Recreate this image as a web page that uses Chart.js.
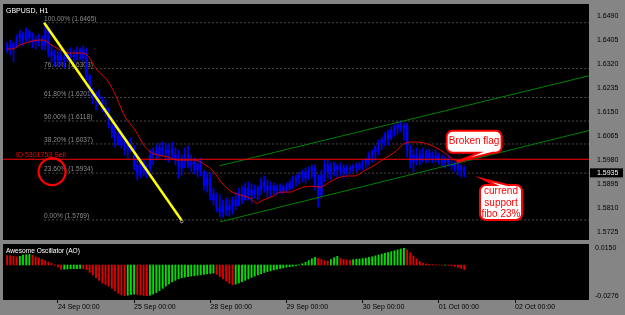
<!DOCTYPE html>
<html>
<head>
<meta charset="utf-8">
<script src="https://cdn.jsdelivr.net/npm/chart.js@4.4.1/dist/chart.umd.min.js"></script>
<style>
  html, body { margin: 0; padding: 0; background: #858585; }
  #wrap { position: relative; width: 625px; height: 315px; overflow: hidden; }
  #priceChart { position: absolute; left: 0; top: 0; }
  #aoChart { position: absolute; left: 0; top: 240px; }
</style>
</head>
<body>
<div id="wrap">
  <canvas id="priceChart" width="625" height="240"></canvas>
  <canvas id="aoChart" width="625" height="75"></canvas>
</div>
<script>
// GBPUSD H1, bars counted in hours from 24 Sep 00:00 (first visible bar is -16)
const firstBar = -16;

const barHigh = [
  1.6397, 1.6404, 1.6397, 1.6422, 1.6440, 1.6433, 1.6447, 1.6440,
  1.6429, 1.6418, 1.6425, 1.6418, 1.6465, 1.6440, 1.6386, 1.6369,
  1.6362, 1.6369, 1.6355, 1.6369, 1.6376, 1.6369, 1.6379, 1.6376,
  1.6383, 1.6376, 1.6284, 1.6235, 1.6221, 1.6228, 1.6203, 1.6192,
  1.6164, 1.6132, 1.6104, 1.6086, 1.6072, 1.6058, 1.6051, 1.6058,
  1.6033, 1.5998, 1.5987, 1.5980, 1.5963, 1.6016, 1.6023, 1.6033,
  1.6040, 1.6044, 1.6040, 1.6033, 1.6044, 1.6023, 1.6016, 1.5998,
  1.6023, 1.6030, 1.5998, 1.5987, 1.5980, 1.5987, 1.5945, 1.5938,
  1.5934, 1.5881, 1.5864, 1.5857, 1.5839, 1.5846, 1.5839, 1.5850,
  1.5867, 1.5881, 1.5888, 1.5899, 1.5903, 1.5896, 1.5892, 1.5888,
  1.5917, 1.5924, 1.5910, 1.5903, 1.5899, 1.5892, 1.5896, 1.5892,
  1.5899, 1.5910, 1.5924, 1.5927, 1.5938, 1.5945, 1.5952, 1.5956,
  1.5963, 1.5963, 1.5927, 1.5945, 1.5980, 1.5980, 1.5970, 1.5973,
  1.5966, 1.5970, 1.5963, 1.5963, 1.5959, 1.5966, 1.5970, 1.5973,
  1.5980, 1.5987, 1.6009, 1.6016, 1.6033, 1.6051, 1.6062, 1.6079,
  1.6086, 1.6097, 1.6104, 1.6115, 1.6118, 1.6111, 1.6111, 1.6033,
  1.6016, 1.6023, 1.6016, 1.6023, 1.6016, 1.6019, 1.6009, 1.6016,
  1.6005, 1.5998, 1.5995, 1.5998, 1.5980, 1.5973, 1.5980, 1.5963,
  1.5959
];
const barLow = [
  1.6358, 1.6351, 1.6327, 1.6376, 1.6386, 1.6383, 1.6397, 1.6390,
  1.6376, 1.6372, 1.6383, 1.6369, 1.6369, 1.6344, 1.6327, 1.6312,
  1.6309, 1.6319, 1.6305, 1.6327, 1.6334, 1.6323, 1.6334, 1.6334,
  1.6327, 1.6263, 1.6210, 1.6178, 1.6157, 1.6175, 1.6150, 1.6132,
  1.6093, 1.6058, 1.6026, 1.6033, 1.6023, 1.5998, 1.5987, 1.6009,
  1.5945, 1.5910, 1.5917, 1.5924, 1.5917, 1.5938, 1.5963, 1.5980,
  1.5987, 1.5995, 1.5980, 1.5973, 1.5987, 1.5963, 1.5917, 1.5927,
  1.5952, 1.5952, 1.5938, 1.5931, 1.5920, 1.5924, 1.5874, 1.5867,
  1.5839, 1.5821, 1.5797, 1.5779, 1.5779, 1.5786, 1.5782, 1.5789,
  1.5804, 1.5818, 1.5825, 1.5839, 1.5839, 1.5828, 1.5846, 1.5839,
  1.5857, 1.5867, 1.5846, 1.5853, 1.5860, 1.5857, 1.5864, 1.5860,
  1.5867, 1.5874, 1.5881, 1.5888, 1.5896, 1.5903, 1.5899, 1.5910,
  1.5917, 1.5874, 1.5814, 1.5846, 1.5903, 1.5917, 1.5910, 1.5924,
  1.5917, 1.5924, 1.5917, 1.5927, 1.5931, 1.5938, 1.5938, 1.5945,
  1.5945, 1.5952, 1.5963, 1.5973, 1.5980, 1.5998, 1.6016, 1.6030,
  1.6033, 1.6051, 1.6065, 1.6072, 1.6079, 1.6051, 1.5991, 1.5952,
  1.5938, 1.5963, 1.5963, 1.5973, 1.5970, 1.5973, 1.5970, 1.5973,
  1.5966, 1.5959, 1.5952, 1.5959, 1.5945, 1.5938, 1.5927, 1.5920,
  1.5920
];
const barOpen = [
  1.6369, 1.6386, 1.6376, 1.6390, 1.6411, 1.6425, 1.6404, 1.6433,
  1.6411, 1.6397, 1.6404, 1.6397, 1.6386, 1.6440, 1.6362, 1.6351,
  1.6334, 1.6348, 1.6334, 1.6341, 1.6355, 1.6344, 1.6351, 1.6362,
  1.6369, 1.6341, 1.6277, 1.6228, 1.6199, 1.6210, 1.6192, 1.6164,
  1.6157, 1.6104, 1.6079, 1.6044, 1.6065, 1.6033, 1.6016, 1.6033,
  1.6023, 1.5963, 1.5927, 1.5973, 1.5938, 1.5952, 1.5998, 1.6009,
  1.5998, 1.6023, 1.6016, 1.6005, 1.6016, 1.5998, 1.5980, 1.5952,
  1.5980, 1.5998, 1.5963, 1.5973, 1.5945, 1.5963, 1.5938, 1.5892,
  1.5917, 1.5857, 1.5839, 1.5811, 1.5797, 1.5821, 1.5804, 1.5818,
  1.5839, 1.5821, 1.5857, 1.5839, 1.5881, 1.5857, 1.5874, 1.5860,
  1.5881, 1.5903, 1.5888, 1.5874, 1.5888, 1.5874, 1.5881, 1.5874,
  1.5885, 1.5878, 1.5899, 1.5910, 1.5917, 1.5927, 1.5938, 1.5917,
  1.5945, 1.5952, 1.5892, 1.5857, 1.5927, 1.5963, 1.5938, 1.5952,
  1.5945, 1.5959, 1.5938, 1.5952, 1.5945, 1.5952, 1.5959, 1.5952,
  1.5963, 1.5970, 1.5980, 1.5998, 1.6009, 1.6023, 1.6040, 1.6051,
  1.6069, 1.6058, 1.6086, 1.6093, 1.6104, 1.6093, 1.6101, 1.6016,
  1.5973, 1.5998, 1.5980, 1.5998, 1.5987, 1.6005, 1.5987, 1.5995,
  1.5987, 1.5980, 1.5973, 1.5980, 1.5966, 1.5959, 1.5966, 1.5945,
  1.5952
];
const barClose = [
  1.6386, 1.6376, 1.6390, 1.6411, 1.6425, 1.6404, 1.6433, 1.6411,
  1.6397, 1.6404, 1.6397, 1.6386, 1.6440, 1.6362, 1.6351, 1.6334,
  1.6348, 1.6334, 1.6341, 1.6355, 1.6344, 1.6351, 1.6362, 1.6369,
  1.6341, 1.6277, 1.6228, 1.6199, 1.6210, 1.6192, 1.6164, 1.6157,
  1.6104, 1.6079, 1.6044, 1.6065, 1.6033, 1.6016, 1.6033, 1.6023,
  1.5963, 1.5927, 1.5973, 1.5938, 1.5952, 1.5998, 1.6009, 1.5998,
  1.6023, 1.6016, 1.6005, 1.6016, 1.5998, 1.5980, 1.5952, 1.5980,
  1.5998, 1.5963, 1.5973, 1.5945, 1.5963, 1.5938, 1.5892, 1.5917,
  1.5857, 1.5839, 1.5811, 1.5797, 1.5821, 1.5804, 1.5818, 1.5839,
  1.5821, 1.5857, 1.5839, 1.5881, 1.5857, 1.5874, 1.5860, 1.5881,
  1.5903, 1.5888, 1.5874, 1.5888, 1.5874, 1.5881, 1.5874, 1.5885,
  1.5878, 1.5899, 1.5910, 1.5917, 1.5927, 1.5938, 1.5917, 1.5945,
  1.5952, 1.5892, 1.5857, 1.5927, 1.5963, 1.5938, 1.5952, 1.5945,
  1.5959, 1.5938, 1.5952, 1.5945, 1.5952, 1.5959, 1.5952, 1.5963,
  1.5970, 1.5980, 1.5998, 1.6009, 1.6023, 1.6040, 1.6051, 1.6069,
  1.6058, 1.6086, 1.6093, 1.6104, 1.6093, 1.6101, 1.6016, 1.5973,
  1.5998, 1.5980, 1.5998, 1.5987, 1.6005, 1.5987, 1.5995, 1.5987,
  1.5980, 1.5973, 1.5980, 1.5966, 1.5959, 1.5966, 1.5945, 1.5952,
  1.5935
];

// Awesome Oscillator, one value per bar
const aoValues = [
  0.0084, 0.0084, 0.0078, 0.0072, 0.0078, 0.0090, 0.0093, 0.0095,
  0.0088, 0.0072, 0.0062, 0.0050, 0.0038, 0.0026, 0.0014, -0.0004,
  -0.0018, -0.0040, -0.0038, -0.0036, -0.0034, -0.0033, -0.0032, -0.0031,
  -0.0034, -0.0042, -0.0066, -0.0090, -0.0114, -0.0138, -0.0162, -0.0174,
  -0.0192, -0.0210, -0.0234, -0.0255, -0.0270, -0.0276, -0.0272, -0.0266,
  -0.0262, -0.0266, -0.0270, -0.0274, -0.0276, -0.0272, -0.0262, -0.0248,
  -0.0230, -0.0210, -0.0190, -0.0170, -0.0152, -0.0138, -0.0125, -0.0116,
  -0.0110, -0.0105, -0.0100, -0.0096, -0.0092, -0.0088, -0.0084, -0.0080,
  -0.0076, -0.0072, -0.0085, -0.0105, -0.0125, -0.0145, -0.0165, -0.0178,
  -0.0172, -0.0162, -0.0150, -0.0138, -0.0125, -0.0112, -0.0100, -0.0088,
  -0.0078, -0.0068, -0.0060, -0.0052, -0.0045, -0.0038, -0.0032, -0.0026,
  -0.0020, -0.0016, -0.0012, -0.0006, 0.0002, 0.0012, 0.0024, 0.0040,
  0.0056, 0.0068, 0.0060, 0.0050, 0.0040, 0.0036, 0.0050, 0.0066,
  0.0078, 0.0060, 0.0050, 0.0046, 0.0044, 0.0048, 0.0052, 0.0054,
  0.0058, 0.0062, 0.0068, 0.0074, 0.0082, 0.0090, 0.0098, 0.0106,
  0.0112, 0.0120, 0.0128, 0.0136, 0.0144, 0.0150, 0.0136, 0.0110,
  0.0080, 0.0054, 0.0032, 0.0016, 0.0010, 0.0006, 0.0004, 0.0002,
  0.0000, -0.0002, -0.0001, -0.0004, -0.0008, -0.0014, -0.0020, -0.0030,
  -0.0042
];

// Moving average (red) at these bar positions
const maIndex = [-16, -14.5, -12, -7.8, -4.6, -2.5, 0.7, 3.8, 7, 9.2, 12.3, 15.5, 18, 21.2, 24.3,
  27.5, 29, 31.5, 34.7, 37.8, 40, 43.2, 46.4, 48.6, 51.7, 54.9, 57.4, 60.5, 62.7, 64.6, 67.8,
  70, 73.1, 76.3, 79.4, 82.6, 85.7, 88.9, 92, 93.6, 96.8, 99.9, 103.1, 106.2, 109.4, 112.5,
  115.6, 118.8, 121.9, 125.1, 128];
const maValue = [1.6372, 1.6372, 1.6386, 1.6401, 1.6404, 1.6390, 1.6369, 1.6358, 1.6358, 1.6351, 1.6298, 1.6263, 1.6213, 1.6132, 1.6086,
  1.6026, 1.6009, 1.5998, 1.5991, 1.5980, 1.5980, 1.5980, 1.5963, 1.5945, 1.5899, 1.5867, 1.5857, 1.5846, 1.5828, 1.5839, 1.5853,
  1.5867, 1.5867, 1.5881, 1.5888, 1.5885, 1.5903, 1.5920, 1.5924, 1.5924, 1.5945, 1.5963, 1.5987, 1.6009, 1.6040, 1.6044,
  1.6040, 1.6026, 1.6005, 1.5980, 1.5977];

// Fibonacci retracement drawn from the 1.6465 high
const fibStart = -4.35;
const fibNames = ['100.00%', '76.40%', '61.80%', '50.00%', '38.20%', '23.60%', '0.00%'];
const fibPrices = [1.6465, 1.6303, 1.6201, 1.6118, 1.6037, 1.5934, 1.5769];

// hand drawn lines
const trendLine = [{ x: -4.35, y: 1.6465 }, { x: 39, y: 1.5767 }];
const channelUpper = [{ x: 50.9, y: 1.5960 }, { x: 170, y: 1.6285 }];
const channelLower = [{ x: 51.1, y: 1.5762 }, { x: 170, y: 1.6092 }];
const orderPrice = 1.5983;
const orderLabel = 'ID 5301753 Sell';
const brokenFlagTip = { x: 125.6, y: 1.5974 };
const supportTip = { x: 134, y: 1.5913 };
const supportText = ['currend', 'support', 'fibo 23%'];

// axes
const xMin = -17.3, xMax = 167.3;
const priceMin = 1.5698, priceMax = 1.6531;
const priceTicks = [1.5725, 1.5810, 1.5895, 1.5980, 1.6065, 1.6150, 1.6235, 1.6320, 1.6405, 1.6490];
const aoMin = -0.0315, aoMax = 0.0189;
const aoTicks = [-0.0276, 0.0150];
const dayTicks = [0, 24, 48, 72, 96, 120, 144];
const dayLabels = ['24 Sep 00:00', '25 Sep 00:00', '28 Sep 00:00', '29 Sep 00:00', '30 Sep 00:00', '01 Oct 00:00', '02 Oct 00:00'];

const FONT = '"Liberation Sans", Arial, sans-serif';

// ==========================================
// Plugins
// ==========================================

const blackArea = {
  id: 'blackArea',
  beforeDraw(chart) {
    const { ctx, chartArea: a } = chart;
    ctx.save();
    ctx.fillStyle = '#000';
    ctx.fillRect(a.left, a.top, a.right - a.left, a.bottom - a.top);
    ctx.restore();
  }
};

const fibLabels = {
  id: 'fibLabels',
  beforeDatasetsDraw(chart) {
    const { ctx, scales: { x, y } } = chart;
    ctx.save();
    ctx.font = '6.6px ' + FONT;
    ctx.fillStyle = '#8c8c8c';
    ctx.textBaseline = 'bottom';
    fibPrices.forEach((p, k) => {
      ctx.fillText(fibNames[k] + ' (' + p.toFixed(4) + ')', x.getPixelForValue(fibStart), y.getPixelForValue(p) - 0.5);
    });
    ctx.restore();
  }
};

function bubble(ctx, box, side, tail, tip, r) {
  const L = box.l, T = box.t, R = box.l + box.w, B = box.t + box.h;
  ctx.beginPath();
  ctx.moveTo(L + r, T);
  if (side === 'top') {
    ctx.lineTo(tail[0], T);
    ctx.lineTo(tip.x, tip.y);
    ctx.lineTo(tail[1], T);
  }
  ctx.lineTo(R - r, T);
  ctx.arcTo(R, T, R, T + r, r);
  ctx.lineTo(R, B - r);
  ctx.arcTo(R, B, R - r, B, r);
  if (side === 'bottom') {
    ctx.lineTo(tail[1], B);
    ctx.lineTo(tip.x, tip.y);
    ctx.lineTo(tail[0], B);
  }
  ctx.lineTo(L + r, B);
  ctx.arcTo(L, B, L, B - r, r);
  ctx.lineTo(L, T + r);
  ctx.arcTo(L, T, L + r, T, r);
  ctx.closePath();
  ctx.fillStyle = '#fff';
  ctx.fill();
  ctx.strokeStyle = '#ff0000';
  ctx.lineWidth = 2;
  ctx.stroke();
}

const notes = {
  id: 'notes',
  afterDraw(chart) {
    const { ctx, chartArea: a, scales: { x, y } } = chart;
    ctx.save();

    ctx.font = '7px ' + FONT;
    ctx.fillStyle = '#fff';
    ctx.textBaseline = 'middle';
    ctx.fillText('GBPUSD, H1', a.left + 3, a.top + 6.8);

    ctx.fillStyle = '#ff0000';
    ctx.textBaseline = 'alphabetic';
    ctx.fillText(orderLabel, a.left + 13, y.getPixelForValue(orderPrice) - 2);

    // small end marker of the yellow trend line
    const te = trendLine[trendLine.length - 1];
    ctx.strokeStyle = '#9a9a9a';
    ctx.lineWidth = 1;
    ctx.beginPath();
    ctx.arc(x.getPixelForValue(te.x), y.getPixelForValue(te.y) + 1, 1.5, 0, 2 * Math.PI);
    ctx.stroke();

    // red circle round the 23.6% label
    const cx = x.getPixelForValue(fibStart) + 8;
    const cy = y.getPixelForValue(fibPrices[5]) - 1.5;
    ctx.strokeStyle = '#ff0000';
    ctx.lineWidth = 2.2;
    ctx.beginPath();
    ctx.ellipse(cx, cy, 13.5, 13.5, 0, -1.3, 2 * Math.PI - 0.9);
    ctx.stroke();

    // "Broken flag" bubble
    const bt = { x: x.getPixelForValue(brokenFlagTip.x), y: y.getPixelForValue(brokenFlagTip.y) };
    const bBox = { l: bt.x - 10, t: bt.y - 31, w: 55, h: 22 };
    bubble(ctx, bBox, 'bottom', [bt.x + 22, bt.x + 36], bt, 6);
    ctx.fillStyle = '#ff0000';
    ctx.font = '10px ' + FONT;
    ctx.textAlign = 'center';
    ctx.textBaseline = 'middle';
    ctx.fillText('Broken flag', bBox.l + bBox.w / 2, bBox.t + bBox.h / 2 - 0.5);

    // support bubble
    const st = { x: x.getPixelForValue(supportTip.x), y: y.getPixelForValue(supportTip.y) };
    const sBox = { l: st.x - 3.3, t: st.y + 6, w: 42, h: 35 };
    bubble(ctx, sBox, 'top', [st.x + 12, st.x + 24], st, 6);
    ctx.fillStyle = '#ff0000';
    supportText.forEach((t, k) => ctx.fillText(t, sBox.l + sBox.w / 2, st.y + 12.5 + k * 11.5));

    // current price tag on the axis
    const last = barClose[barClose.length - 1];
    const py = y.getPixelForValue(last);
    ctx.fillStyle = '#000';
    ctx.fillRect(a.right + 1, py - 4.5, 33, 9);
    ctx.fillStyle = '#fff';
    ctx.font = '7px ' + FONT;
    ctx.textAlign = 'left';
    ctx.fillText(last.toFixed(4), a.right + 8, py + 0.5);

    ctx.restore();
  }
};

const aoLabel = {
  id: 'aoLabel',
  afterDraw(chart) {
    const { ctx, chartArea: a } = chart;
    ctx.save();
    ctx.font = '6.6px ' + FONT;
    ctx.fillStyle = '#fff';
    ctx.textBaseline = 'middle';
    ctx.fillText('Awesome Oscillator (AO)', a.left + 3, a.top + 7.5);
    ctx.restore();
  }
};

// ==========================================
// Price chart
// ==========================================

const wicks = barHigh.map((h, k) => ({ x: firstBar + k, y: [barLow[k], h] }));
const bodies = barOpen.map((o, k) => ({ x: firstBar + k, y: [o, barClose[k]] }));
const maPoints = maIndex.map((v, k) => ({ x: v, y: maValue[k] }));
const fibSets = fibPrices.map(p => ({
  type: 'line',
  data: [{ x: fibStart, y: p }, { x: xMax, y: p }],
  borderColor: '#4a4a4a',
  borderWidth: 1,
  borderDash: [2, 2],
  pointRadius: 0
}));

function lineSet(data, color, width) {
  return { type: 'line', data, borderColor: color, borderWidth: width, pointRadius: 0 };
}

new Chart(document.getElementById('priceChart'), {
  type: 'bar',
  data: {
    datasets: [
      lineSet(trendLine, '#ffff00', 2.5),
      Object.assign(lineSet(maPoints, '#e00000', 1), { cubicInterpolationMode: 'monotone' }),
      lineSet([{ x: xMin, y: orderPrice }, { x: xMax, y: orderPrice }], '#ff0000', 1),
      lineSet(channelUpper, '#008000', 1),
      lineSet(channelLower, '#008000', 1),
      { type: 'bar', data: bodies, backgroundColor: '#0000ff', barThickness: 1.6, grouped: false },
      { type: 'bar', data: wicks, backgroundColor: '#0000f0', barThickness: 1, grouped: false },
      ...fibSets
    ]
  },
  options: {
    responsive: false,
    animation: false,
    events: [],
    layout: { padding: { left: 3, top: 4, right: 0, bottom: 0 } },
    plugins: { legend: { display: false }, tooltip: { enabled: false } },
    scales: {
      x: { type: 'linear', offset: false, min: xMin, max: xMax, display: false },
      y: {
        position: 'right',
        min: priceMin,
        max: priceMax,
        afterBuildTicks: s => { s.ticks = priceTicks.map(v => ({ value: v })); },
        afterFit: s => { s.width = 36; s.paddingTop = 0; s.paddingBottom = 0; },
        grid: { display: false, drawTicks: false },
        border: { display: false },
        ticks: {
          autoSkip: false,
          padding: 8,
          color: '#000',
          font: { size: 7, family: FONT },
          callback: v => v.toFixed(4)
        }
      }
    }
  },
  plugins: [blackArea, fibLabels, notes]
});

// ==========================================
// Awesome Oscillator
// ==========================================

const aoColors = aoValues.map((v, k) => (k > 0 && v > aoValues[k - 1]) ? '#00e000' : '#e00000');

new Chart(document.getElementById('aoChart'), {
  type: 'bar',
  data: {
    datasets: [{
      data: aoValues.map((v, k) => ({ x: firstBar + k, y: v })),
      backgroundColor: aoColors,
      barThickness: 1.2,
      grouped: false
    }]
  },
  options: {
    responsive: false,
    animation: false,
    events: [],
    layout: { padding: { left: 3, top: 4, right: 0, bottom: 0 } },
    plugins: { legend: { display: false }, tooltip: { enabled: false } },
    scales: {
      x: {
        type: 'linear',
        offset: false,
        min: xMin,
        max: xMax,
        afterBuildTicks: s => { s.ticks = dayTicks.map(v => ({ value: v })); },
        afterFit: s => { s.height = 15; s.paddingLeft = 0; s.paddingRight = 0; },
        grid: { offset: false, drawOnChartArea: false, drawTicks: true, tickLength: 3, color: '#000' },
        border: { display: false },
        ticks: {
          align: 'start',
          autoSkip: false,
          maxRotation: 0,
          padding: 0,
          color: '#000',
          font: { size: 7, family: FONT },
          callback: v => dayLabels[dayTicks.indexOf(v)]
        }
      },
      y: {
        position: 'right',
        min: aoMin,
        max: aoMax,
        afterBuildTicks: s => { s.ticks = aoTicks.map(v => ({ value: v })); },
        afterFit: s => { s.width = 36; s.paddingTop = 0; s.paddingBottom = 0; },
        grid: { display: false, drawTicks: false },
        border: { display: false },
        ticks: {
          autoSkip: false,
          padding: 6,
          color: '#000',
          font: { size: 7, family: FONT },
          callback: v => v.toFixed(4)
        }
      }
    }
  },
  plugins: [blackArea, aoLabel]
});
</script>
</body>
</html>
